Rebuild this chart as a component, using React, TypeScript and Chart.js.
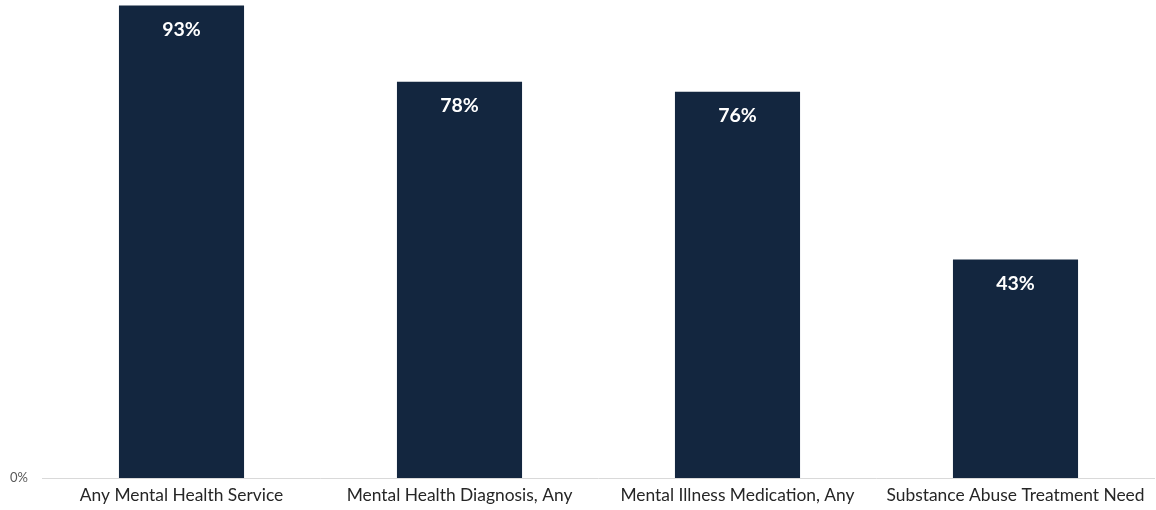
import React, { useEffect, useRef } from "react";
import { Chart, registerables } from "chart.js";

Chart.register(...registerables);

const categories = [
  "Any Mental Health Service",
  "Mental Health Diagnosis, Any",
  "Mental Illness Medication, Any",
  "Substance Abuse Treatment Need",
];
const values = [93, 78, 76, 43];
const yTickValues = [0];

const BAR_COLOR = "#13263f";
const FONT = "Lato, 'Open Sans', sans-serif";

const valueLabelPlugin = {
  id: "valueLabels",
  afterDatasetsDraw(chart: any) {
    const ctx = chart.ctx;
    const meta = chart.getDatasetMeta(0);
    ctx.save();
    ctx.fillStyle = "#ffffff";
    ctx.font = `bold 19.5px ${FONT}`;
    ctx.textAlign = "center";
    ctx.textBaseline = "middle";
    meta.data.forEach((bar: any, i: number) => {
      ctx.fillText(`${values[i]}%`, bar.x, bar.y + 24);
    });
    ctx.restore();
  },
};

export default function App() {
  const ref = useRef<HTMLCanvasElement | null>(null);

  useEffect(() => {
    if (!ref.current) return;
    const chart = new Chart(ref.current, {
      type: "bar",
      data: {
        labels: categories,
        datasets: [
          {
            data: values,
            backgroundColor: BAR_COLOR,
            barPercentage: 0.45,
            categoryPercentage: 1,
          },
        ],
      },
      options: {
        animation: false,
        responsive: false,
        maintainAspectRatio: false,
        layout: { padding: { top: 0, right: 1.5, left: 10, bottom: 0 } },
        plugins: {
          legend: { display: false },
          tooltip: { enabled: false },
        },
        scales: {
          x: {
            grid: { display: false, drawTicks: false },
            border: { display: true, color: "#d9d9d9", width: 1 },
            ticks: {
              color: "#262626",
              font: { family: FONT, size: 17.4 },
              padding: 7,
              maxRotation: 0,
              autoSkip: false,
            },
            afterFit(scale: any) {
              scale.height = 32;
            },
          },
          y: {
            min: 0,
            max: 94,
            grid: { display: false, drawTicks: false },
            border: { display: false },
            afterBuildTicks(scale: any) {
              scale.ticks = yTickValues.map((v) => ({ value: v }));
            },
            ticks: {
              color: "#595959",
              font: { family: FONT, size: 13, lineHeight: 0.05 },
              padding: 0,
              crossAlign: "far",
              callback: (v: any) => `${v}%`,
            },
            afterFit(scale: any) {
              scale.width = 32.5;
            },
          },
        },
      },
      plugins: [valueLabelPlugin],
    });
    return () => chart.destroy();
  }, []);

  return (
    <div style={{ position: "absolute", left: 0, top: 0, width: 1156, height: 510, background: "#ffffff" }}>
      <canvas ref={ref} width={1156} height={510} style={{ display: "block" }} />
    </div>
  );
}
